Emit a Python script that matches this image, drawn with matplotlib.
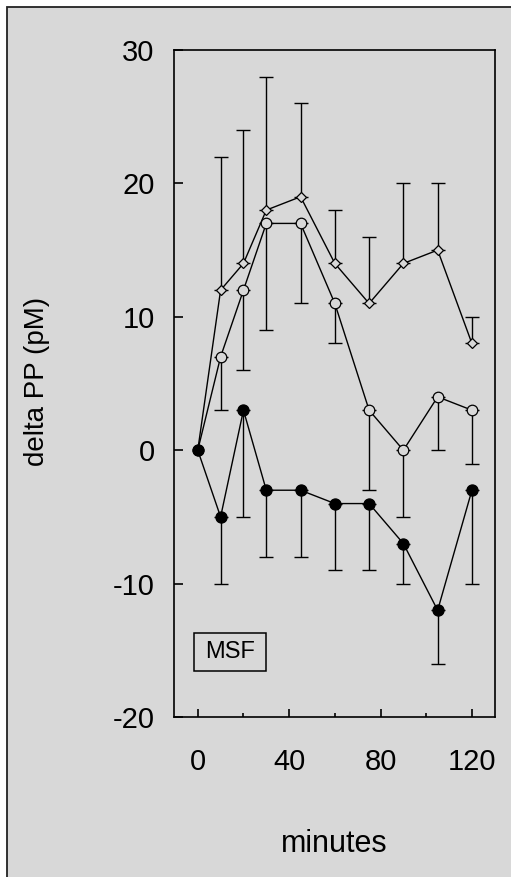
import matplotlib
matplotlib.use("Agg")
import matplotlib.pyplot as plt
from matplotlib.patches import Rectangle
from matplotlib.ticker import FixedLocator

# ---- data ----
minutes = [0, 10, 20, 30, 45, 60, 75, 90, 105, 120]

diamond_vals = [0, 12, 14, 18, 19, 14, 11, 14, 15, 8]
diamond_upper = [0, 22, 24, 28, 26, 18, 16, 20, 20, 10]

open_vals = [0, 7, 12, 17, 17, 11, 3, 0, 4, 3]
open_lower = [0, 3, 6, 9, 11, 8, -3, -5, 0, -1]

filled_vals = [0, -5, 3, -3, -3, -4, -4, -7, -12, -3]
filled_lower = [0, -10, -5, -8, -8, -9, -9, -10, -16, -10]

x_major = [0, 40, 80, 120]
x_minor = [20, 60, 100]
y_ticks = [-20, -10, 0, 10, 20, 30]

BG = "#d8d8d8"
W, H = 511, 877

plt.rcParams["font.family"] = ["Liberation Sans", "DejaVu Sans"]

fig = plt.figure(figsize=(W / 100, H / 100), dpi=100)
fig.patch.set_facecolor("white")
# gray panel with black frame (cut at right/bottom)
fig.patches.append(Rectangle((7 / W, -0.05), 1.2, (H - 7) / H + 0.05,
                             transform=fig.transFigure, facecolor=BG,
                             edgecolor="#222222", linewidth=1.3, zorder=-10))

ax = fig.add_axes([174 / W, 1 - 717 / H, 321 / W, 667 / H])
ax.set_zorder(5)
ax.set_facecolor("none")
ax.set_xlim(-10.4, 130.1)
ax.set_ylim(-20, 30)

lw = 1.0
cap = 5

def err(vals, ends):
    lo, hi = [], []
    for v, e in zip(vals, ends):
        if e >= v:
            lo.append(0); hi.append(e - v)
        else:
            lo.append(v - e); hi.append(0)
    return [lo, hi]

def draw(vals, ends, marker, ms, mfc):
    # error bars only where non-zero
    idx = [i for i in range(len(vals)) if ends[i] != vals[i]]
    xs = [minutes[i] for i in idx]
    vs = [vals[i] for i in idx]
    es = [ends[i] for i in idx]
    ax.errorbar(xs, vs, yerr=err(vs, es), fmt="none", ecolor="black",
                elinewidth=lw, capsize=cap, capthick=lw, zorder=2)
    ax.plot(minutes, vals, color="black", linewidth=lw, zorder=3)
    ax.plot(minutes, vals, linestyle="none", marker=marker, markersize=ms,
            markerfacecolor=mfc, markeredgecolor="black",
            markeredgewidth=0.9, zorder=4)

draw(diamond_vals, diamond_upper, "D", 5.2, BG)
draw(open_vals, open_lower, "o", 7.6, BG)
draw(filled_vals, filled_lower, "o", 8.0, "black")

for s in ax.spines.values():
    s.set_linewidth(1.2)
    s.set_color("black")

ax.xaxis.set_major_locator(FixedLocator(x_major))
ax.xaxis.set_minor_locator(FixedLocator(x_minor))
ax.set_xticklabels([str(v) for v in x_major])
ax.yaxis.set_major_locator(FixedLocator(y_ticks))
ax.set_yticklabels([str(v) for v in y_ticks])

ax.tick_params(axis="x", which="major", direction="in", length=6, width=1.2,
               pad=22, labelsize=21, top=False)
ax.tick_params(axis="x", which="minor", direction="in", length=3, width=1.2,
               top=False)
ax.tick_params(axis="y", which="major", direction="in", length=6.5, width=1.2,
               pad=14, labelsize=21, right=False)

ax.text(0.5, -0.191, "minutes", transform=ax.transAxes, ha="center",
        va="center", fontsize=22)
ax.text((37 - 174) / 321, (717 - 381) / 667, "delta PP (pM)",
        transform=ax.transAxes, ha="center", va="center", rotation=90,
        fontsize=20)

# MSF label box
ax.add_patch(Rectangle(((194 - 174) / 321, (717 - 671) / 667), 72 / 321,
                       38 / 667, transform=ax.transAxes, facecolor="none",
                       edgecolor="black", linewidth=1.1, zorder=5))
ax.text((230 - 174) / 321, (717 - 652) / 667, "MSF", transform=ax.transAxes,
        ha="center", va="center", fontsize=17, zorder=6)

fig.savefig("out.png", dpi=100, facecolor=fig.get_facecolor())
